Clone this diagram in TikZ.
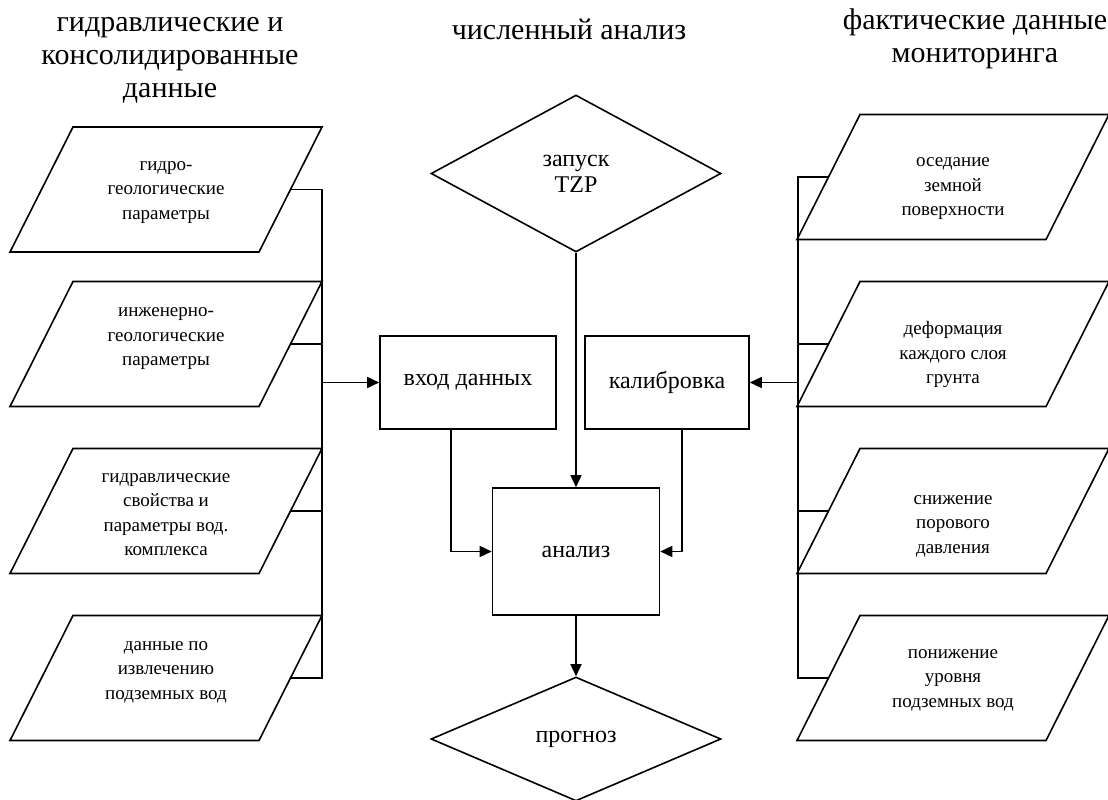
\documentclass[tikz,border=0pt]{standalone}
\usepackage{fontspec}
\setmainfont{Liberation Serif}
\usetikzlibrary{arrows.meta,shapes.geometric}
\tikzset{
  ln/.style={line width=1.6pt, line join=miter},
  arr/.style={ln, -{Triangle[length=12pt,width=11pt]}},
  hdr/.style={align=center, font=\fontsize{30}{33}\selectfont},
  ptxt/.style={align=center, font=\fontsize{19}{24.5}\selectfont, inner sep=0pt},
  box/.style={ln, draw, rectangle, align=center, font=\fontsize{24}{26}\selectfont, inner sep=0pt},
  dia/.style={ln, draw, diamond, aspect=1.85, inner sep=0pt, align=center, font=\fontsize{24}{26}\selectfont}
}
% parallelogram: name, cx, cy, text, text dy
\newcommand\mkpara[5]{%
  \draw[ln] (#2-93,#3-62.5) -- (#2+156,#3-62.5) -- (#2+93,#3+62.5) -- (#2-156,#3+62.5) -- cycle;
  \coordinate (#1e) at (#2+124.5,#3);
  \coordinate (#1w) at (#2-124.5,#3);
  \node[ptxt] (#1) at (#2,#3+#5) {#4};
}
\begin{document}
\begin{tikzpicture}[x=1pt,y=-1pt]
\useasboundingbox (0,0) rectangle (1108,800);

% headers
\node[hdr] (h1) at (170,60) {гидравлические и\\консолидированные\\данные};
\node[hdr] (h2) at (569,29) {численный анализ};
\node[hdr] (h3) at (975,39) {фактические данные\\мониторинга};

% left parallelograms
\mkpara{pa}{166}{189.5}{гидро-\\геологические\\параметры}{3}
\mkpara{pb}{166}{344}{инженерно-\\геологические\\параметры}{-5}
\mkpara{pc}{166}{511}{гидравлические\\свойства и\\параметры вод.\\комплекса}{3.5}
\mkpara{pd}{166}{678}{данные по\\извлечению\\подземных вод}{-6}

% right parallelograms
\mkpara{ra}{953}{177}{оседание\\земной\\поверхности}{12}
\mkpara{rb}{953}{344}{деформация\\каждого слоя\\грунта}{10.5}
\mkpara{rc}{953}{511}{снижение\\порового\\давления}{15}
\mkpara{rd}{953}{678}{понижение\\уровня\\подземных вод}{2}

% center nodes
\node[dia, minimum width=290pt, minimum height=157pt] (start) at (576,173.5) {запуск\\TZP};
\node[box, minimum width=176pt, minimum height=93pt] (vhod) at (468,382.5) {вход данных};
\node[box, minimum width=164pt, minimum height=93pt] (kalib) at (667,382.5) {калибровка};
\node[box, minimum width=167pt, minimum height=127pt] (analiz) at (576,551.5) {анализ};
\node[dia, minimum width=290pt, minimum height=124pt] (prog) at (576,739) {прогноз};

% left bus
\coordinate (lb1) at (322,189.5);
\coordinate (lb2) at (322,344);
\coordinate (lb3) at (322,511);
\coordinate (lb4) at (322,678);
\coordinate (lbA) at (322,382.5);
\draw[ln] (pae) -- (lb1) -- (lb4) -- (pde);
\draw[ln] (pbe) -- (lb2);
\draw[ln] (pce) -- (lb3);
\draw[arr] (lbA) -- (vhod.west);

% right bus
\coordinate (rb1) at (798,177);
\coordinate (rb2) at (798,344);
\coordinate (rb3) at (798,511);
\coordinate (rb4) at (798,678);
\coordinate (rbA) at (798,382.5);
\draw[ln] (raw) -- (rb1) -- (rb4) -- (rdw);
\draw[ln] (rbw) -- (rb2);
\draw[ln] (rcw) -- (rb3);
\draw[arr] (rbA) -- (kalib.east);

% center flow
\draw[arr] (start.south) -- (analiz.north);
\draw[arr] ([xshift=-17pt]vhod.south) |- (analiz.west);
\draw[arr] ([xshift=15pt]kalib.south) |- (analiz.east);
\draw[arr] (analiz.south) -- (prog.north);
\end{tikzpicture}
\end{document}
